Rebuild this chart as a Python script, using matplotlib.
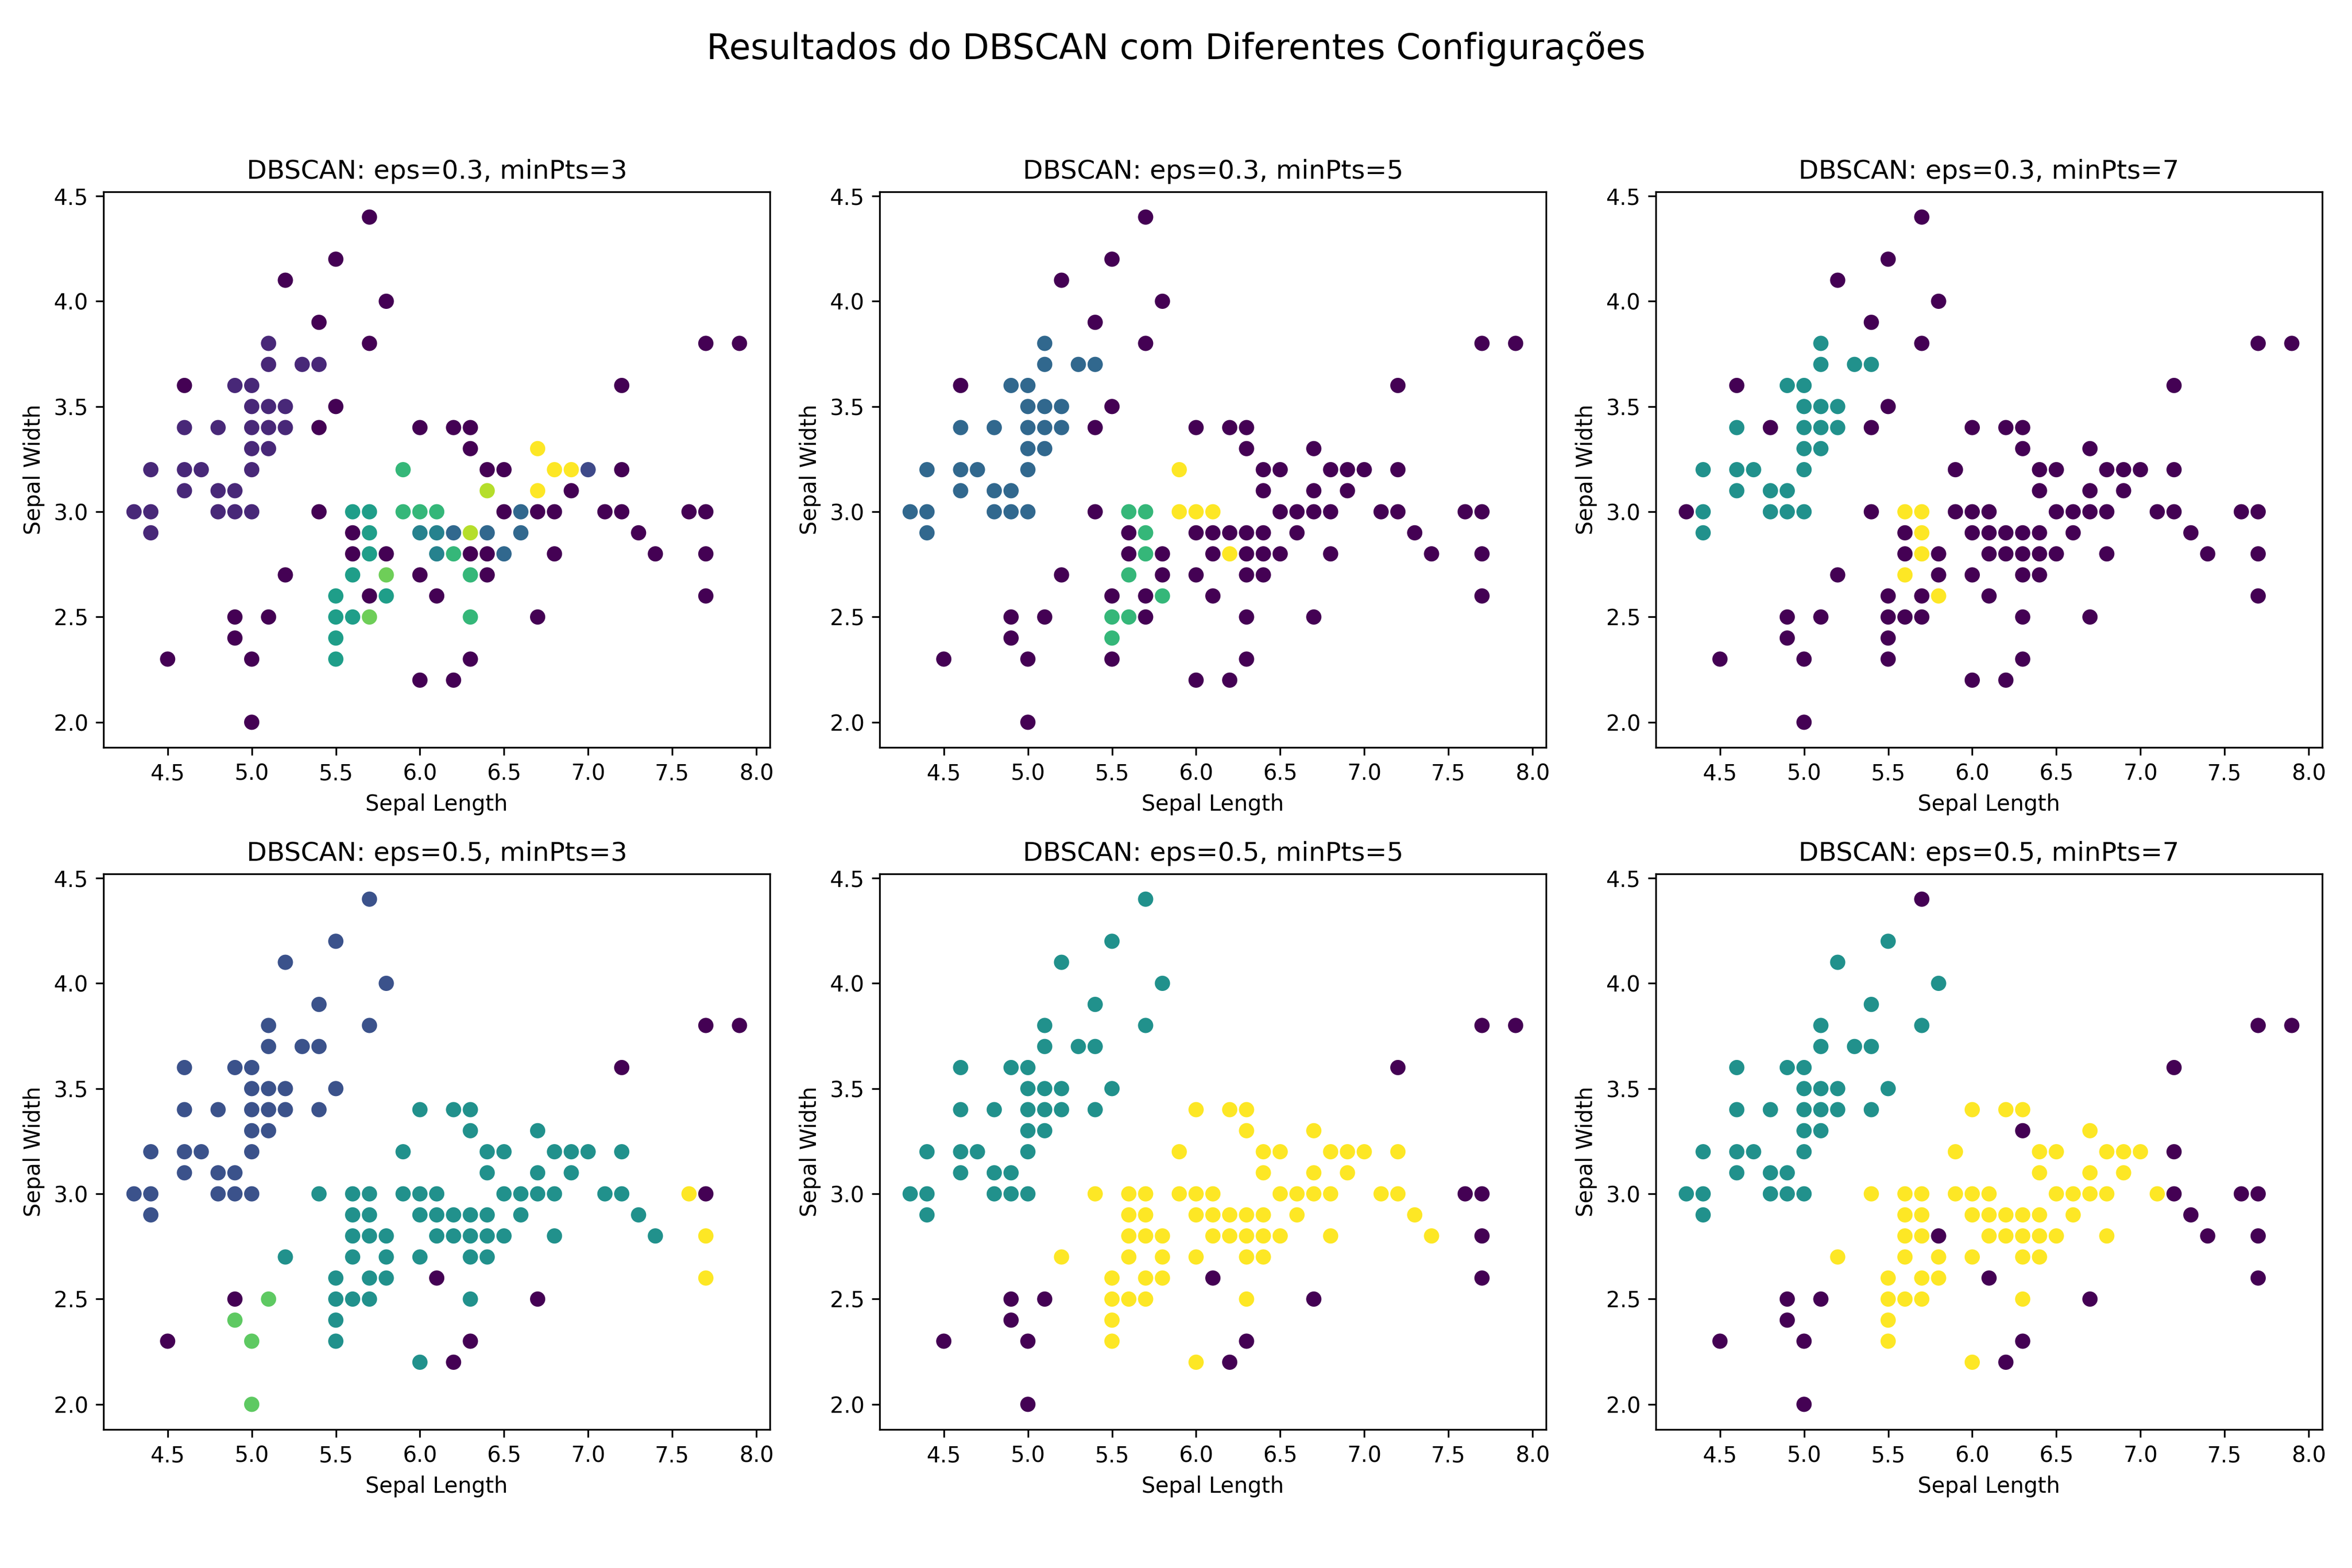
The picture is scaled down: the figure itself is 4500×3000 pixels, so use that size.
import matplotlib
matplotlib.use("Agg")
import matplotlib.pyplot as plt

# Unique points, grouped by rows of equal Sepal Width
row_widths = [4.4, 4.2, 4.1, 4.0, 3.9, 3.8, 3.7, 3.6, 3.5, 3.4, 3.3, 3.2, 3.1, 3.0, 2.9, 2.8, 2.7, 2.6, 2.5, 2.4, 2.3, 2.2, 2.0]
row_lengths = [
    [5.7], [5.5], [5.2], [5.8], [5.4],
    [5.1, 5.7, 7.7, 7.9],
    [5.1, 5.3, 5.4],
    [4.6, 4.9, 5.0, 7.2],
    [5.0, 5.1, 5.2, 5.5],
    [4.6, 4.8, 5.0, 5.1, 5.2, 5.4, 6.0, 6.2, 6.3],
    [5.0, 5.1, 6.3, 6.7],
    [4.4, 4.6, 4.7, 5.0, 5.9, 6.4, 6.5, 6.8, 6.9, 7.0, 7.2],
    [4.6, 4.8, 4.9, 6.4, 6.7, 6.9],
    [4.3, 4.4, 4.8, 4.9, 5.0, 5.4, 5.6, 5.7, 5.9, 6.0, 6.1, 6.5, 6.6, 6.7, 6.8, 7.1, 7.2, 7.6, 7.7],
    [4.4, 5.6, 5.7, 6.0, 6.1, 6.2, 6.3, 6.4, 6.6, 7.3],
    [5.6, 5.7, 5.8, 6.1, 6.2, 6.3, 6.4, 6.5, 6.8, 7.4, 7.7],
    [5.2, 5.6, 5.8, 6.0, 6.3, 6.4],
    [5.5, 5.7, 5.8, 6.1, 7.7],
    [4.9, 5.1, 5.5, 5.6, 5.7, 6.3, 6.7],
    [4.9, 5.5],
    [4.5, 5.0, 5.5, 6.3],
    [6.0, 6.2],
    [5.0],
]

labels_03_3 = [
    [-1], [-1], [-1], [-1], [-1],
    [0, -1, -1, -1],
    [0, 0, 0],
    [-1, 0, 0, -1],
    [0, 0, 0, -1],
    [0, 0, 0, 0, 0, -1, -1, -1, -1],
    [0, 0, -1, 8],
    [0, 0, 0, 0, 5, -1, -1, 8, 8, 1, -1],
    [0, 0, 0, 7, 8, -1],
    [0, 0, 0, 0, 0, -1, 4, 4, 5, 5, 5, -1, 2, -1, -1, -1, -1, -1, -1],
    [0, -1, 4, 3, 3, 2, 7, 2, 2, -1],
    [-1, 4, -1, 3, 5, -1, -1, 2, -1, -1, -1],
    [-1, 4, 6, -1, 5, -1],
    [4, -1, 4, -1, -1],
    [-1, -1, 4, 4, 6, 5, -1],
    [-1, 4],
    [-1, -1, 4, -1],
    [-1, -1],
    [-1],
]
labels_03_5 = [
    [-1], [-1], [-1], [-1], [-1],
    [0, -1, -1, -1],
    [0, 0, 0],
    [-1, 0, 0, -1],
    [0, 0, 0, -1],
    [0, 0, 0, 0, 0, -1, -1, -1, -1],
    [0, 0, -1, -1],
    [0, 0, 0, 0, 2, -1, -1, -1, -1, -1, -1],
    [0, 0, 0, -1, -1, -1],
    [0, 0, 0, 0, 0, -1, 1, 1, 2, 2, 2, -1, -1, -1, -1, -1, -1, -1, -1],
    [0, -1, 1, -1, -1, -1, -1, -1, -1, -1],
    [-1, 1, -1, -1, 2, -1, -1, -1, -1, -1, -1],
    [-1, 1, -1, -1, -1, -1],
    [-1, -1, 1, -1, -1],
    [-1, -1, 1, 1, -1, -1, -1],
    [-1, 1],
    [-1, -1, -1, -1],
    [-1, -1],
    [-1],
]
labels_03_7 = [
    [-1], [-1], [-1], [-1], [-1],
    [0, -1, -1, -1],
    [0, 0, 0],
    [-1, 0, 0, -1],
    [0, 0, 0, -1],
    [0, -1, 0, 0, 0, -1, -1, -1, -1],
    [0, 0, -1, -1],
    [0, 0, 0, 0, -1, -1, -1, -1, -1, -1, -1],
    [0, 0, 0, -1, -1, -1],
    [-1, 0, 0, 0, 0, -1, 1, 1, -1, -1, -1, -1, -1, -1, -1, -1, -1, -1, -1],
    [0, -1, 1, -1, -1, -1, -1, -1, -1, -1],
    [-1, 1, -1, -1, -1, -1, -1, -1, -1, -1, -1],
    [-1, 1, -1, -1, -1, -1],
    [-1, -1, 1, -1, -1],
    [-1, -1, -1, -1, -1, -1, -1],
    [-1, -1],
    [-1, -1, -1, -1],
    [-1, -1],
    [-1],
]
labels_05_3 = [
    [0], [0], [0], [0], [0],
    [0, 0, -1, -1],
    [0, 0, 0],
    [0, 0, 0, -1],
    [0, 0, 0, 0],
    [0, 0, 0, 0, 0, 0, 1, 1, 1],
    [0, 0, 1, 1],
    [0, 0, 0, 0, 1, 1, 1, 1, 1, 1, 1],
    [0, 0, 0, 1, 1, 1],
    [0, 0, 0, 0, 0, 1, 1, 1, 1, 1, 1, 1, 1, 1, 1, 1, 1, 3, -1],
    [0, 1, 1, 1, 1, 1, 1, 1, 1, 1],
    [1, 1, 1, 1, 1, 1, 1, 1, 1, 1, 3],
    [1, 1, 1, 1, 1, 1],
    [1, 1, 1, -1, 3],
    [-1, 2, 1, 1, 1, 1, -1],
    [2, 1],
    [-1, 2, 1, -1],
    [1, -1],
    [2],
]
labels_05_5 = [
    [0], [0], [0], [0], [0],
    [0, 0, -1, -1],
    [0, 0, 0],
    [0, 0, 0, -1],
    [0, 0, 0, 0],
    [0, 0, 0, 0, 0, 0, 1, 1, 1],
    [0, 0, 1, 1],
    [0, 0, 0, 0, 1, 1, 1, 1, 1, 1, 1],
    [0, 0, 0, 1, 1, 1],
    [0, 0, 0, 0, 0, 1, 1, 1, 1, 1, 1, 1, 1, 1, 1, 1, 1, -1, -1],
    [0, 1, 1, 1, 1, 1, 1, 1, 1, 1],
    [1, 1, 1, 1, 1, 1, 1, 1, 1, 1, -1],
    [1, 1, 1, 1, 1, 1],
    [1, 1, 1, -1, -1],
    [-1, -1, 1, 1, 1, 1, -1],
    [-1, 1],
    [-1, -1, 1, -1],
    [1, -1],
    [-1],
]
labels_05_7 = [
    [-1], [0], [0], [0], [0],
    [0, 0, -1, -1],
    [0, 0, 0],
    [0, 0, 0, -1],
    [0, 0, 0, 0],
    [0, 0, 0, 0, 0, 0, 1, 1, 1],
    [0, 0, -1, 1],
    [0, 0, 0, 0, 1, 1, 1, 1, 1, 1, -1],
    [0, 0, 0, 1, 1, 1],
    [0, 0, 0, 0, 0, 1, 1, 1, 1, 1, 1, 1, 1, 1, 1, 1, -1, -1, -1],
    [0, 1, 1, 1, 1, 1, 1, 1, 1, -1],
    [1, 1, -1, 1, 1, 1, 1, 1, 1, -1, -1],
    [1, 1, 1, 1, 1, 1],
    [1, 1, 1, -1, -1],
    [-1, -1, 1, 1, 1, 1, -1],
    [-1, 1],
    [-1, -1, 1, -1],
    [1, -1],
    [-1],
]

eps_values = [0.3, 0.3, 0.3, 0.5, 0.5, 0.5]
min_pts_values = [3, 5, 7, 3, 5, 7]
panel_labels = [labels_03_3, labels_03_5, labels_03_7, labels_05_3, labels_05_5, labels_05_7]

sepal_length = [v for row in row_lengths for v in row]
sepal_width = [w for w, row in zip(row_widths, row_lengths) for _ in row]

fig, axes = plt.subplots(2, 3, figsize=(15, 10))
for ax, eps, min_pts, rows in zip(axes.ravel(), eps_values, min_pts_values, panel_labels):
    labels = [v for row in rows for v in row]
    ax.scatter(sepal_length, sepal_width, c=labels, cmap="viridis")
    ax.set_title(f"DBSCAN: eps={eps}, minPts={min_pts}")
    ax.set_xlabel("Sepal Length")
    ax.set_ylabel("Sepal Width")

fig.suptitle("Resultados do DBSCAN com Diferentes Configurações", fontsize=16)
fig.tight_layout(rect=[0, 0.03, 1, 0.95])
fig.savefig("out.png", dpi=300)
